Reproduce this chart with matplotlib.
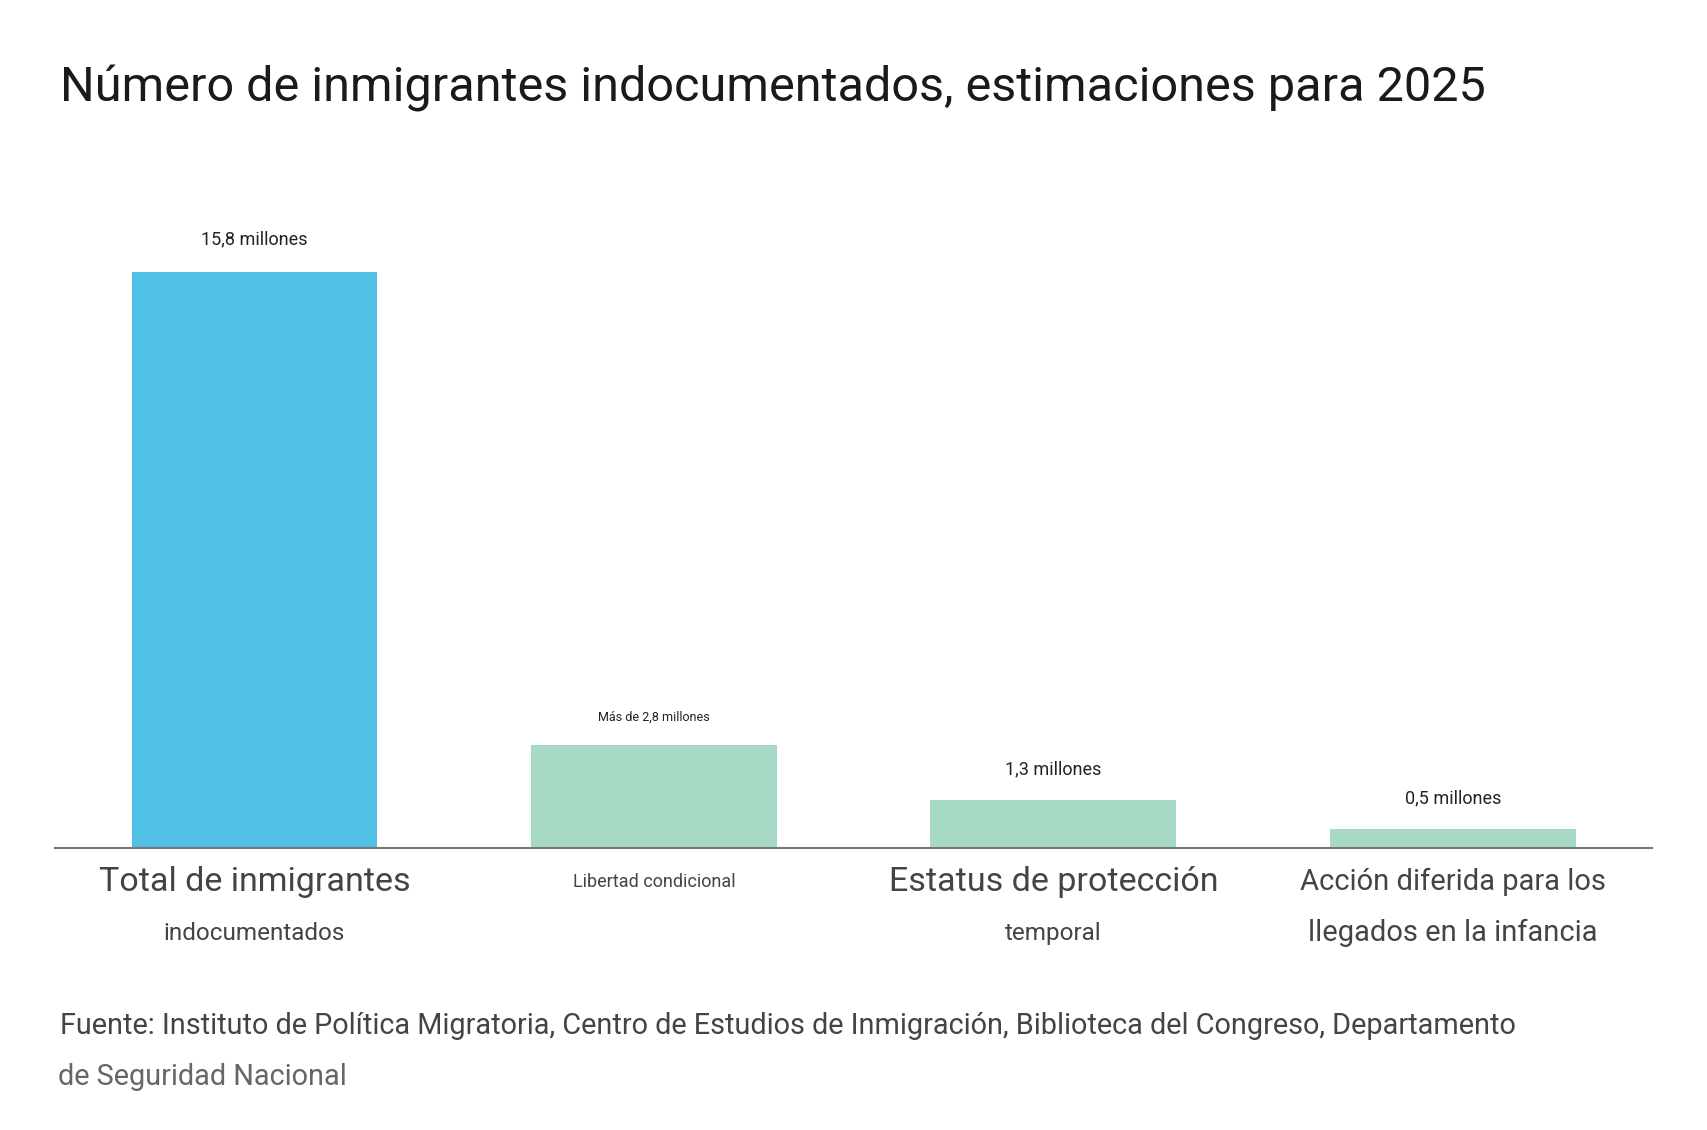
import matplotlib.pyplot as plt

categories = ["Total de inmigrantes\nindocumentados", "Libertad condicional",
              "Estatus de protección\ntemporal", "Acción diferida para los\nllegados en la infancia"]
values = [15.8, 2.8, 1.3, 0.5]
value_labels = ["15,8 millones", "Más de 2,8 millones", "1,3 millones", "0,5 millones"]
colors = ["#50c1e5", "#a6dac4", "#a6dac4", "#a6dac4"]

plt.rcParams['font.family'] = ['Roboto', 'DejaVu Sans']

fig = plt.figure(figsize=(17.08, 11.30), dpi=100)
ax = fig.add_axes([0.032, 0.25, 0.9355, 0.556])
x = range(len(values))
ax.bar(x, values, width=0.615, color=colors)
ax.set_xlim(-0.5, 3.5)
ax.set_ylim(0, 17.24)
for s in ['top', 'right', 'left']:
    ax.spines[s].set_visible(False)
ax.spines['bottom'].set_color('#777777')
ax.spines['bottom'].set_linewidth(1.5)
ax.set_yticks([])
ax.set_xticks([])

label_sizes = [13, 9, 13, 13]
label_offsets = [0.65, 0.6, 0.6, 0.6]
for i, (v, t) in enumerate(zip(values, value_labels)):
    ax.text(i, v + label_offsets[i], t, ha='center', va='bottom',
            fontsize=label_sizes[i], color='#222222', fontstretch='condensed')

# category labels: first line bigger, second smaller (as in reference)
firsts = ["Total de inmigrantes", "Libertad condicional", "Estatus de protección", "Acción diferida para los"]
seconds = ["indocumentados", "", "temporal", "llegados en la infancia"]
fs1 = [24.5, 13, 24.5, 21]
fs2 = [17.5, 17.5, 17.5, 21]
for i in x:
    ax.text(i, -0.95, firsts[i], ha='center', va='center', fontsize=fs1[i], color='#444444')
    if seconds[i]:
        ax.text(i, -2.35, seconds[i], ha='center', va='center', fontsize=fs2[i], color='#444444')

fig.text(0.035, 0.922, "Número de inmigrantes indocumentados, estimaciones para 2025",
         fontsize=35, color='#1a1a1a', va='center')
fig.text(0.035, 0.092, "Fuente: Instituto de Política Migratoria, Centro de Estudios de Inmigración, "
         "Biblioteca del Congreso, Departamento", fontsize=20.8, color='#444444', va='center')
fig.text(0.034, 0.047, "de Seguridad Nacional", fontsize=20.8, color='#666666', va='center')

fig.savefig("out.png", dpi=100, facecolor='white')
